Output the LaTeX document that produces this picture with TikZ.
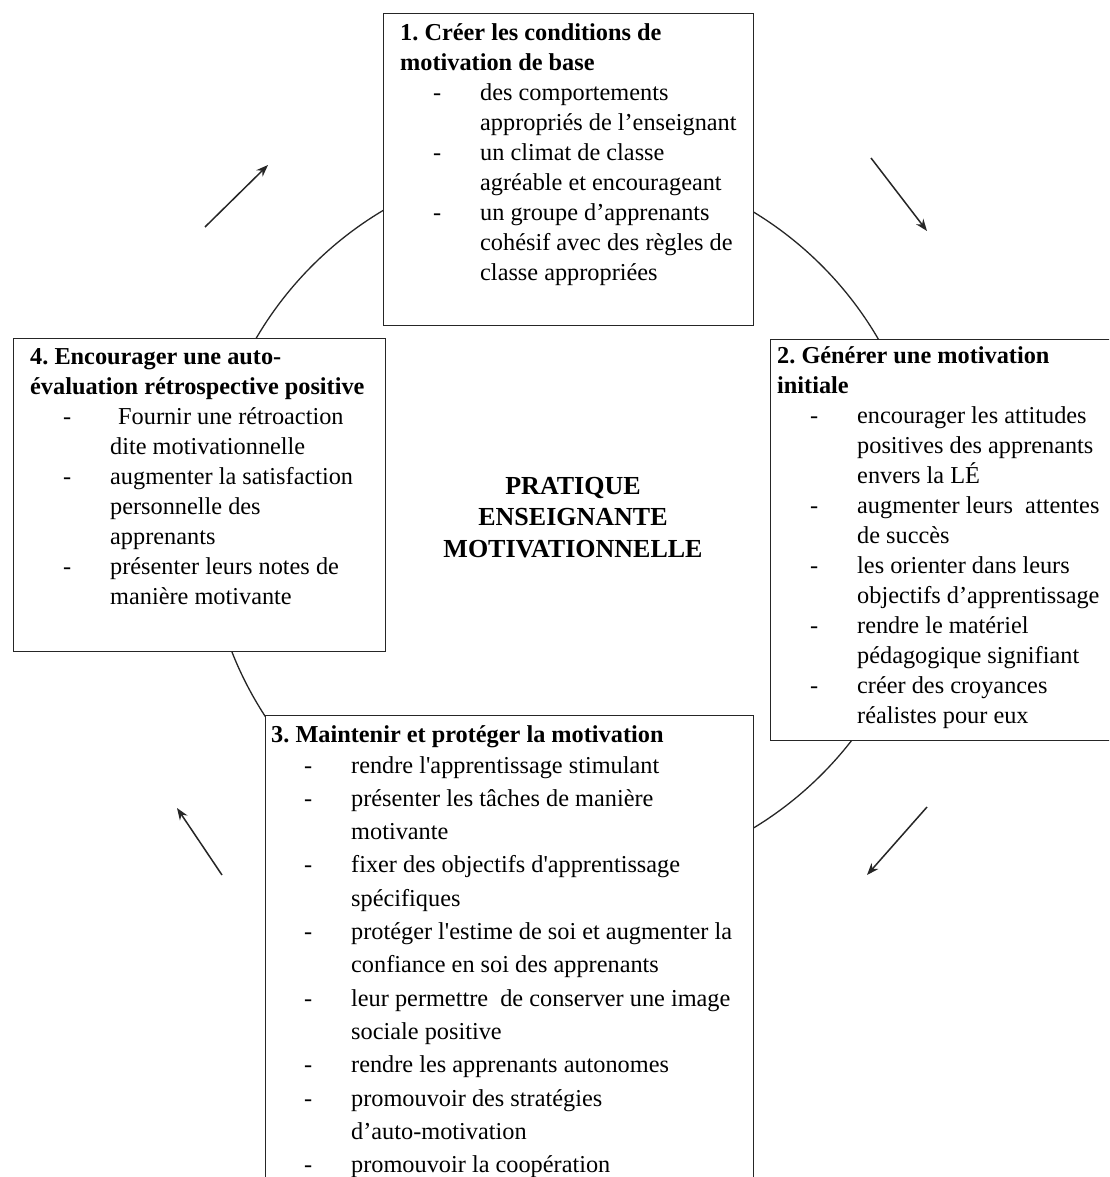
\documentclass[tikz,border=0pt]{standalone}
\usepackage{fontspec}
\setmainfont{Liberation Serif}
\usetikzlibrary{arrows.meta}
\frenchspacing

% list rows inside the panels: bullet dash, then continuation lines
\newcommand\bitem[1]{\hspace*{33pt}\makebox[47pt][l]{-}#1}
\newcommand\bcont[1]{\hspace*{80pt}#1}

\tikzset{
  panel/.style={draw=black!85, line width=1.4pt, fill=white, anchor=north west, inner sep=0pt},
  paneltext/.style={anchor=base west, inner sep=0pt, font=\fontsize{24.3}{30}\selectfont},
  cyclering/.style={draw=black!85, line width=1.3pt},
  flow/.style={draw=black!85, line width=1.5pt, -{Stealth[length=12pt,width=9pt]}},
}

\begin{document}
\begin{tikzpicture}[x=1pt,y=-1pt]
\path[use as bounding box] (0,0) rectangle (1109,1177);
\clip (0,0) rectangle (1109,1177);
\fill[white] (0,0) rectangle (1109,1177);

% the cycle behind the four stages
\draw[cyclering] (567,520) circle[radius=360pt];

% stage panels
\node[panel, minimum width=370pt, minimum height=312pt] (p1) at (383,13) {};
\node[panel, minimum width=360pt, minimum height=401pt] (p2) at (770,339) {};
\node[panel, minimum width=488pt, minimum height=500pt] (p3) at (265,715) {};
\node[panel, minimum width=372pt, minimum height=313pt] (p4) at (13,338) {};

\node[paneltext] (t1) at (400,41) {\begin{tabular}[t]{@{}l@{}}
\textbf{1. Créer les conditions de}\\
\textbf{motivation de base}\\
\bitem{des comportements}\\
\bcont{appropriés de l’enseignant}\\
\bitem{un climat de classe}\\
\bcont{agréable et encourageant}\\
\bitem{un groupe d’apprenants}\\
\bcont{cohésif avec des règles de}\\
\bcont{classe appropriées}
\end{tabular}};

\node[paneltext] (t2) at (777,363) {\begin{tabular}[t]{@{}l@{}}
\textbf{2. Générer une motivation}\\
\textbf{initiale}\\
\bitem{encourager les attitudes}\\
\bcont{positives des apprenants}\\
\bcont{envers la LÉ}\\
\bitem{augmenter leurs\ \ attentes}\\
\bcont{de succès}\\
\bitem{les orienter dans leurs}\\
\bcont{objectifs d’apprentissage}\\
\bitem{rendre le matériel}\\
\bcont{pédagogique signifiant}\\
\bitem{créer des croyances}\\
\bcont{réalistes pour eux}
\end{tabular}};

\node[paneltext, font=\fontsize{24.3}{33.3}\selectfont] (t3) at (271,742) {\begin{tabular}[t]{@{}l@{}}
\textbf{3. Maintenir et protéger la motivation}\\[-2.3pt]
\bitem{rendre l\textquotesingle apprentissage stimulant}\\
\bitem{présenter les tâches de manière}\\
\bcont{motivante}\\
\bitem{fixer des objectifs d\textquotesingle apprentissage}\\
\bcont{spécifiques}\\
\bitem{protéger l\textquotesingle estime de soi et augmenter la}\\
\bcont{confiance en soi des apprenants}\\
\bitem{leur permettre\ \ de conserver une image}\\
\bcont{sociale positive}\\
\bitem{rendre les apprenants autonomes}\\
\bitem{promouvoir des stratégies}\\
\bcont{d’auto-motivation}\\
\bitem{promouvoir la coopération}
\end{tabular}};

\node[paneltext] (t4) at (30,364) {\begin{tabular}[t]{@{}l@{}}
\textbf{4. Encourager une auto-}\\
\textbf{évaluation rétrospective positive}\\
\bitem{\hspace*{8pt}Fournir une rétroaction}\\
\bcont{dite motivationnelle}\\
\bitem{augmenter la satisfaction}\\
\bcont{personnelle des}\\
\bcont{apprenants}\\
\bitem{présenter leurs notes de}\\
\bcont{manière motivante}
\end{tabular}};

% centre title
\node[anchor=base, inner sep=0pt, font=\bfseries\fontsize{26}{31.5}\selectfont] (title) at (573,494)
  {\begin{tabular}[t]{@{}c@{}}PRATIQUE\\ENSEIGNANTE\\MOTIVATIONNELLE\end{tabular}};

% direction arrows around the cycle
\coordinate (a1s) at (205,227); \coordinate (a1e) at (268,165);
\coordinate (a2s) at (871,158); \coordinate (a2e) at (927,231);
\coordinate (a3s) at (927,807); \coordinate (a3e) at (867,875);
\coordinate (a4s) at (222,875); \coordinate (a4e) at (177,808);
\draw[flow] (a1s) -- (a1e);
\draw[flow] (a2s) -- (a2e);
\draw[flow] (a3s) -- (a3e);
\draw[flow] (a4s) -- (a4e);
\end{tikzpicture}
\end{document}
